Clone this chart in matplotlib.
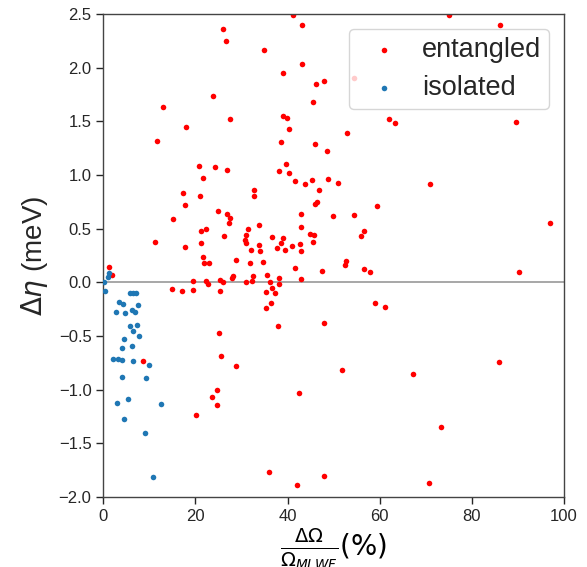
import matplotlib
matplotlib.use("Agg")
import matplotlib.pyplot as plt

# spread change (%) and eta change (meV)
entangled_x = [
    41.1, 43.2, 25.9, 26.6, 34.9, 43.1, 38.9, 48.0, 46.1, 23.8, 45.6, 13.0, 39.0, 39.8,
    27.5, 18.0, 40.3, 11.7, 38.5, 45.9, 48.5, 20.8, 24.3, 39.7, 26.9, 38.1, 40.2, 21.6,
    41.5, 43.8, 45.2, 48.7, 51.0, 17.2, 32.8, 21.0, 32.6, 46.8, 17.7, 46.4, 45.9, 24.8,
    26.9, 43.0, 27.5, 27.3, 15.2, 49.8, 42.9, 22.2, 21.1, 31.3, 33.8, 26.1, 30.9, 36.5,
    44.9, 45.7, 11.2, 21.3, 30.7, 31.0, 38.9, 38.5, 42.7, 45.5, 17.7, 33.8, 40.9, 37.6,
    39.4, 32.0, 33.9, 43.0, 21.6, 21.8, 22.9, 28.8, 31.8, 34.6, 41.6, 47.4, 1.2, 1.8,
    35.5, 28.2, 28.0, 32.4, 38.1, 19.5, 22.3, 22.7, 25.3, 26.0, 30.9, 32.3, 36.1, 38.2,
    43.0, 14.9, 17.1, 19.5, 25.4, 35.4, 36.5, 37.3, 36.4, 35.3, 38.0, 48.0, 25.0, 25.5,
    28.9, 8.7, 24.7, 23.6, 24.6, 42.5, 20.1, 35.9, 47.9, 42.1,
    75.1, 86.1, 54.3, 62.1, 63.3, 52.9, 89.5, 70.8, 59.4, 54.5, 56.5, 55.9, 97.0, 52.6,
    52.4, 56.6, 57.8, 90.3, 58.9, 61.2, 51.9, 67.3, 85.8, 73.2, 70.7,
]
entangled_y = [
    2.49, 2.40, 2.36, 2.25, 2.16, 2.03, 1.95, 1.88, 1.85, 1.74, 1.68, 1.63, 1.55, 1.53,
    1.52, 1.45, 1.43, 1.32, 1.31, 1.29, 1.22, 1.08, 1.07, 1.10, 1.05, 1.04, 1.02, 0.97,
    0.94, 0.92, 0.95, 0.96, 0.93, 0.83, 0.86, 0.80, 0.80, 0.86, 0.72, 0.75, 0.73, 0.66,
    0.64, 0.64, 0.60, 0.55, 0.59, 0.62, 0.52, 0.50, 0.48, 0.50, 0.53, 0.43, 0.44, 0.42,
    0.45, 0.44, 0.38, 0.37, 0.39, 0.37, 0.41, 0.37, 0.36, 0.38, 0.33, 0.35, 0.34, 0.32,
    0.30, 0.30, 0.29, 0.29, 0.24, 0.18, 0.18, 0.21, 0.18, 0.19, 0.13, 0.11, 0.14, 0.07,
    0.07, 0.06, 0.04, 0.06, 0.04, 0.01, 0.01, -0.02, 0.02, 0.00, 0.00, 0.01, 0.00, -0.02,
    0.03, -0.06, -0.08, -0.07, -0.08, -0.09, -0.05, -0.10, -0.19, -0.24, -0.41, -0.38, -0.47, -0.69,
    -0.78, -0.73, -1.00, -1.07, -1.14, -1.03, -1.24, -1.77, -1.80, -1.89,
    2.49, 2.40, 1.90, 1.52, 1.48, 1.39, 1.49, 0.92, 0.71, 0.63, 0.48, 0.43, 0.55, 0.20,
    0.16, 0.12, 0.10, 0.10, -0.19, -0.23, -0.82, -0.85, -0.74, -1.35, -1.87,
]
isolated_x = [
    1.3, 1.1, 0.2, 0.4, 5.7, 6.5, 7.2, 3.3, 4.3, 7.5, 2.7, 4.6, 6.2, 6.9, 5.7, 7.3, 6.4,
    7.8, 4.4, 4.1, 6.2, 2.2, 3.1, 4.1, 6.5, 10.0, 4.1, 9.3, 3.0, 5.4, 12.5, 4.5, 9.0, 10.8,
]
isolated_y = [
    0.085, 0.045, 0.0, -0.08, -0.10, -0.10, -0.10, -0.18, -0.20, -0.21, -0.28, -0.29, -0.26,
    -0.28, -0.41, -0.40, -0.45, -0.50, -0.53, -0.61, -0.59, -0.71, -0.71, -0.72, -0.73, -0.77,
    -0.88, -0.89, -1.12, -1.09, -1.13, -1.27, -1.40, -1.81,
]

plt.rcParams["font.family"] = ["Liberation Sans", "DejaVu Sans"]
plt.rcParams["mathtext.fontset"] = "dejavusans"

fig = plt.figure(figsize=(5.87, 5.67), dpi=100)
ax = fig.add_axes([0.176, 0.1235, 0.785, 0.8518])

ax.axhline(0, color="#a0a0a0", lw=1.3, zorder=1)
ax.axvline(0, color="#a0a0a0", lw=1.3, zorder=1)
ax.scatter(entangled_x, entangled_y, s=16, color="red", lw=0, label="entangled", zorder=2)
ax.scatter(isolated_x, isolated_y, s=16, color="#1f77b4", lw=0, label="isolated", zorder=3)

ax.set_xlim(0, 100)
ax.set_ylim(-2.0, 2.5)
ax.set_xticks([0, 20, 40, 60, 80, 100])
ax.set_yticks([-2.0, -1.5, -1.0, -0.5, 0.0, 0.5, 1.0, 1.5, 2.0, 2.5])
ax.tick_params(labelsize=12, colors="#262626", length=5, width=1)
for s in ax.spines.values():
    s.set_color("#444444")
    s.set_linewidth(1.0)

ax.set_xlabel(r"$\frac{\Delta\Omega}{\Omega_{MLWF}}(\%)$", fontsize=20, labelpad=2)
ax.set_ylabel(r"$\Delta\eta$ (meV)", fontsize=20, labelpad=6, color="#262626")

leg = ax.legend(loc="upper right", fontsize=19.5, markerscale=1.0, framealpha=0.8,
                edgecolor="#cccccc", borderpad=0.3, handletextpad=0.4,
                labelspacing=0.45, borderaxespad=0.55)
for t in leg.get_texts():
    t.set_color("#262626")

fig.savefig("out.png", dpi=100)
